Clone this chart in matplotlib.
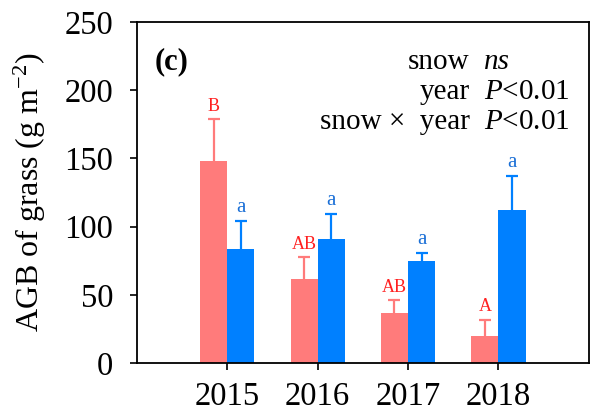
import matplotlib
matplotlib.use("Agg")
from matplotlib import pyplot as plt
import numpy as np

years = ['2015', '2016', '2017', '2018']
ctrl_mean = [148, 62, 37, 20]
ctrl_err = [31, 16, 9, 12]
snow_mean = [84, 91, 75, 112]
snow_err = [20, 18, 6, 25]
ctrl_letters = ['B', 'AB', 'AB', 'A']
snow_letters = ['a', 'a', 'a', 'a']

plt.rcParams['font.family'] = ['Liberation Serif', 'DejaVu Serif']
plt.rcParams['mathtext.fontset'] = 'custom'
plt.rcParams['mathtext.rm'] = 'Liberation Serif'
plt.rcParams['mathtext.it'] = 'Liberation Serif:italic'

pink = '#FF7B7B'
blue = '#0080FF'
pink_txt = '#FF2020'
blue_txt = '#1A6FD6'

fig = plt.figure(figsize=(5.9, 4.16), dpi=100)
ax = fig.add_axes([0.232, 0.127, 0.766, 0.820])

x = np.arange(1, len(years) + 1)
w = 0.3
ax.bar(x - w/2, ctrl_mean, w, color=pink, zorder=2)
ax.bar(x + w/2, snow_mean, w, color=blue, zorder=2)
for xs, m, e, c in [(x - w/2, ctrl_mean, ctrl_err, pink),
                    (x + w/2, snow_mean, snow_err, blue)]:
    eb = ax.errorbar(xs, m, yerr=[np.zeros(len(m)), e], fmt='none',
                     ecolor=c, elinewidth=1.6, capsize=4.5, capthick=1.6,
                     zorder=1)
    # only the upper caps
    eb[1][0].set_visible(False)

for xi, m, e, s in zip(x - w/2, ctrl_mean, ctrl_err, ctrl_letters):
    ax.text(xi, m + e + 3, s, ha='center', va='bottom', fontsize=13, color=pink_txt)
for xi, m, e, s in zip(x + w/2, snow_mean, snow_err, snow_letters):
    ax.text(xi, m + e + 3, s, ha='center', va='bottom', fontsize=15, color=blue_txt)

ax.set_xlim(0, 5)
ax.set_ylim(0, 250)
ax.set_xticks(x)
ax.set_xticklabels(years)
ax.set_yticks(np.arange(0, 251, 50))
ax.tick_params(labelsize=23.5, direction='out', length=5, width=1.2)
ax.tick_params(axis='x', pad=8)
ax.tick_params(axis='y', pad=12)
for sp in ax.spines.values():
    sp.set_linewidth(1.3)

ax.set_ylabel('AGB of grass (g m$^{-2}$)', fontsize=23, labelpad=12)

ax.text(0.04, 0.885, '(c)', transform=ax.transAxes, fontsize=22,
        fontweight='bold', va='center')
rows = [('snow', 'ns'), ('year', '$P$<0.01'), ('snow \u00d7  year', '$P$<0.01')]
for i, (lab, val) in enumerate(rows):
    yy = 0.882 - i * 0.088
    ax.text(0.736, yy, lab, transform=ax.transAxes, fontsize=21,
            ha='right', va='center')
    ax.text(0.768, yy, val, transform=ax.transAxes, fontsize=21,
            ha='left', va='center', style='italic' if val == 'ns' else 'normal')

fig.savefig('out.png', dpi=100)
